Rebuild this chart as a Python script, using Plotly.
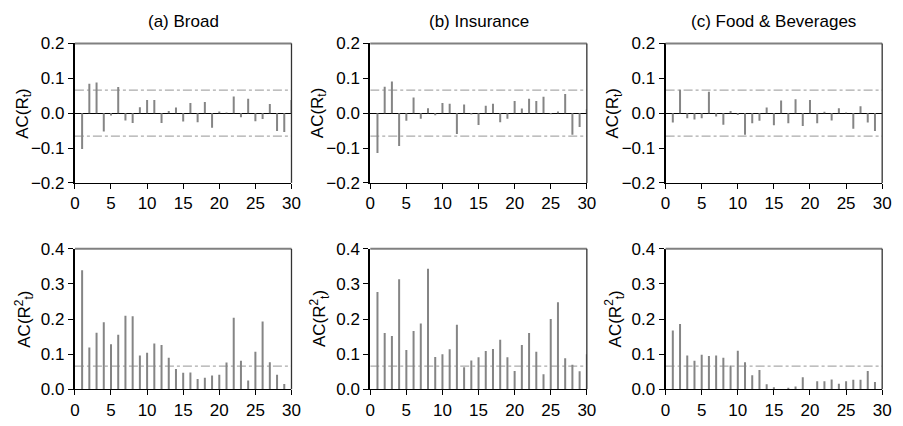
import plotly.graph_objects as go

lags = list(range(1, 31))

broad_r = [-0.103, 0.084, 0.088, -0.053, -0.007, 0.075, -0.021, -0.028, 0.017, 0.038,
           0.038, -0.028, 0.006, 0.016, -0.024, 0.029, -0.026, 0.032, -0.042, 0.005,
           0.002, 0.048, -0.012, 0.041, -0.023, -0.017, 0.026, -0.051, -0.054, 0.038]
ins_r = [-0.114, 0.076, 0.091, -0.094, -0.022, 0.045, -0.016, 0.014, -0.006, 0.029,
         0.027, -0.060, 0.025, -0.004, -0.034, 0.021, 0.027, -0.026, -0.016, 0.035,
         0.013, 0.041, 0.035, 0.047, -0.003, 0.005, 0.055, -0.062, -0.040, 0.011]
food_r = [-0.027, 0.067, -0.015, -0.018, -0.015, 0.061, -0.010, -0.033, 0.006, -0.005,
          -0.062, -0.029, -0.022, 0.016, -0.035, 0.036, -0.029, 0.040, -0.037, 0.038,
          -0.029, 0.004, -0.021, 0.014, 0.002, -0.045, 0.020, -0.027, -0.051]

broad_r2 = [0.339, 0.119, 0.161, 0.191, 0.128, 0.155, 0.209, 0.208, 0.096, 0.104,
            0.130, 0.126, 0.090, 0.058, 0.047, 0.048, 0.029, 0.033, 0.039, 0.041,
            0.076, 0.204, 0.081, 0.025, 0.107, 0.193, 0.077, 0.041, 0.015]
ins_r2 = [0.277, 0.160, 0.152, 0.313, 0.112, 0.166, 0.187, 0.343, 0.092, 0.100,
          0.114, 0.184, 0.063, 0.082, 0.091, 0.109, 0.115, 0.141, 0.091, 0.052,
          0.126, 0.160, 0.107, 0.043, 0.200, 0.248, 0.088, 0.070, 0.051, 0.100]
food_r2 = [0.167, 0.186, 0.096, 0.081, 0.098, 0.095, 0.096, 0.090, 0.068, 0.110,
           0.077, 0.040, 0.055, 0.014, 0.006, 0.0, 0.004, 0.008, 0.034, 0.0,
           0.023, 0.023, 0.028, 0.016, 0.023, 0.027, 0.027, 0.052, 0.021]

conf_band = 0.066
titles = ["(a) Broad", "(b) Insurance", "(c) Food &amp; Beverages"]
ytitle_top = "AC(R<sub>t</sub>)"
ytitle_bot = "AC(R<sup>2</sup><sub>t</sub>)"
xticks = [0, 5, 10, 15, 20, 25, 30]
yticks_top = [-0.2, -0.1, 0.0, 0.1, 0.2]
yticks_bot = [0.0, 0.1, 0.2, 0.3, 0.4]

W, H = 903, 426
col_px = [(71, 291), (371, 591), (671, 891)]
row_px = [(36, 182), (251, 398)]

BAR = "#858585"
BAND = "#ababab"
FONT = "Liberation Sans, Arial, sans-serif"
FS = 17


def stems(xs, ys):
    sx, sy = [], []
    for xv, yv in zip(xs, ys):
        sx += [xv, xv, None]
        sy += [0, yv, None]
    return sx, sy


fig = go.Figure()
series = [[broad_r, ins_r, food_r], [broad_r2, ins_r2, food_r2]]

shapes = []
annotations = []
idx = 0
for r in range(2):
    for c in range(3):
        idx += 1
        xa = "x" if idx == 1 else f"x{idx}"
        ya = "y" if idx == 1 else f"y{idx}"
        xkey = "xaxis" if idx == 1 else f"xaxis{idx}"
        ykey = "yaxis" if idx == 1 else f"yaxis{idx}"
        vals = series[r][c]
        bands = [conf_band, -conf_band] if r == 0 else [conf_band]
        for b in bands:
            fig.add_trace(go.Scatter(x=[0, 30], y=[b, b], mode="lines",
                                     line=dict(color=BAND, width=1.2, dash="dashdot"),
                                     xaxis=xa, yaxis=ya, showlegend=False, hoverinfo="skip"))
        sx, sy = stems(lags[:len(vals)], vals)
        fig.add_trace(go.Scatter(x=sx, y=sy, mode="lines",
                                 line=dict(color=BAR, width=2),
                                 xaxis=xa, yaxis=ya, showlegend=False, cliponaxis=False))
        x0, x1 = col_px[c]
        y0, y1 = row_px[r]
        fig.layout[xkey] = dict(domain=[x0 / W, x1 / W], range=[0, 30], anchor=ya,
                                tickvals=xticks, ticks="outside", ticklen=5, tickcolor="black",
                                showline=True, linecolor="black", linewidth=1,
                                showgrid=False, zeroline=False,
                                tickfont=dict(family=FONT, size=FS, color="black"))
        fig.layout[ykey] = dict(domain=[1 - y1 / H, 1 - y0 / H],
                                range=[-0.2, 0.2] if r == 0 else [0, 0.4], anchor=xa,
                                tickvals=yticks_top if r == 0 else yticks_bot,
                                tickformat=".1f", ticks="outside", ticklen=5, tickcolor="black",
                                showline=True, linecolor="black", linewidth=2,
                                showgrid=False,
                                zeroline=(r == 0), zerolinecolor="black", zerolinewidth=1,
                                tickfont=dict(family=FONT, size=FS, color="black"))
        dref = xa + " domain"
        yref = ya + " domain"
        shapes.append(dict(type="line", xref=dref, yref=yref, x0=0, x1=1, y0=1, y1=1,
                           line=dict(color="#808080", width=2)))
        shapes.append(dict(type="line", xref=dref, yref=yref, x0=1, x1=1, y0=0, y1=1,
                           line=dict(color="#333333", width=1.3)))
        if r == 0:
            annotations.append(dict(text=titles[c], x=(x0 + x1) / 2 / W, y=1 - 13 / H,
                                    xref="paper", yref="paper", showarrow=False,
                                    xanchor="center", yanchor="middle",
                                    font=dict(family=FONT, size=FS, color="black")))
        annotations.append(dict(text=ytitle_top if r == 0 else ytitle_bot,
                                x=(x0 - 52) / W, y=1 - (y0 + y1) / 2 / H,
                                xref="paper", yref="paper", showarrow=False, textangle=-90,
                                xanchor="center", yanchor="middle",
                                font=dict(family=FONT, size=FS, color="black")))

fig.update_layout(width=W, height=H, margin=dict(l=0, r=0, t=0, b=0),
                  paper_bgcolor="white", plot_bgcolor="white",
                  shapes=shapes, annotations=annotations)
fig.write_html("out.html")
